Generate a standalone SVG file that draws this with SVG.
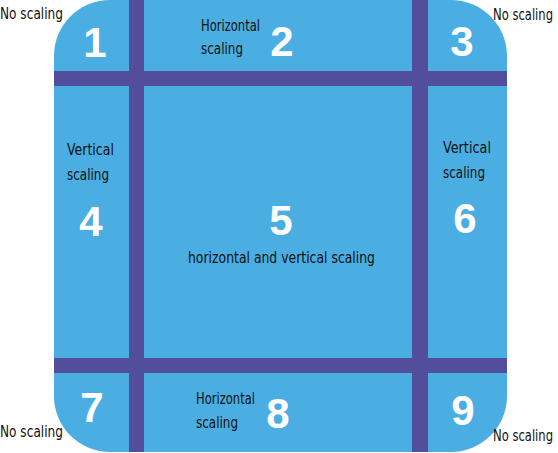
<svg xmlns="http://www.w3.org/2000/svg" width="558" height="453" viewBox="0 0 558 453">
<style>
.bg{fill:#4aaee2}
.bar{fill:#524e9b}
.num{font-family:"Liberation Sans","DejaVu Sans",sans-serif;font-weight:bold;font-size:42px;fill:#ffffff;text-anchor:middle}
.lbl{font-family:"Liberation Sans Narrow","DejaVu Sans Condensed",sans-serif;font-size:15px;fill:#111111}
</style>
<rect width="558" height="453" fill="#ffffff"/>
<g id="panel">
<rect class="bg" x="54" y="0" width="453" height="452" rx="56" ry="56"/>
</g>
<g id="bars">
<rect class="bar" x="129" y="0" width="15" height="452"/>
<rect class="bar" x="412" y="0" width="16" height="452"/>
<rect class="bar" x="54" y="71" width="453" height="15"/>
<rect class="bar" x="54" y="358" width="453" height="15"/>
</g>
<g id="n1"><text class="num" x="95" y="57">1</text><text class="lbl" x="0" y="19" textLength="63" lengthAdjust="spacingAndGlyphs">No scaling</text></g>
<g id="n2"><text class="num" x="282" y="56">2</text><text class="lbl" x="201" y="31" textLength="59" lengthAdjust="spacingAndGlyphs">Horizontal</text><text class="lbl" x="201" y="54" textLength="42" lengthAdjust="spacingAndGlyphs">scaling</text></g>
<g id="n3"><text class="num" x="462" y="56">3</text><text class="lbl" x="493" y="20" textLength="60" lengthAdjust="spacingAndGlyphs">No scaling</text></g>
<g id="n4"><text class="num" x="91" y="236">4</text><text class="lbl" x="67" y="155" textLength="47" lengthAdjust="spacingAndGlyphs">Vertical</text><text class="lbl" x="67" y="180" textLength="42" lengthAdjust="spacingAndGlyphs">scaling</text></g>
<g id="n5"><text class="num" x="281" y="235">5</text><text class="lbl" x="188" y="263" textLength="187" lengthAdjust="spacingAndGlyphs">horizontal and vertical scaling</text></g>
<g id="n6"><text class="num" x="465" y="233">6</text><text class="lbl" x="443" y="153" textLength="48" lengthAdjust="spacingAndGlyphs">Vertical</text><text class="lbl" x="443" y="178" textLength="42" lengthAdjust="spacingAndGlyphs">scaling</text></g>
<g id="n7"><text class="num" x="92" y="422">7</text><text class="lbl" x="0" y="437" textLength="63" lengthAdjust="spacingAndGlyphs">No scaling</text></g>
<g id="n8"><text class="num" x="278" y="428">8</text><text class="lbl" x="196" y="404" textLength="59" lengthAdjust="spacingAndGlyphs">Horizontal</text><text class="lbl" x="196" y="428" textLength="42" lengthAdjust="spacingAndGlyphs">scaling</text></g>
<g id="n9"><text class="num" x="463" y="425">9</text><text class="lbl" x="493" y="441" textLength="60" lengthAdjust="spacingAndGlyphs">No scaling</text></g>
</svg>
